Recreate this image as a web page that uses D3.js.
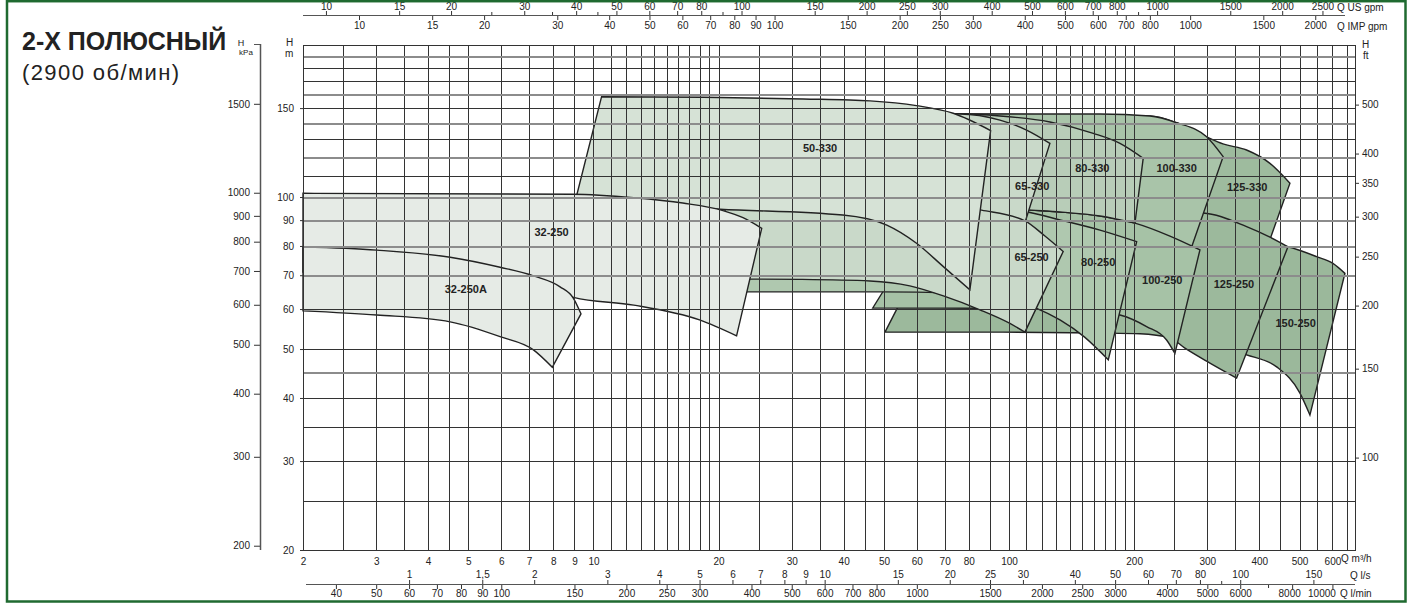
<!DOCTYPE html>
<html>
<head>
<meta charset="utf-8">
<script src="https://cdn.jsdelivr.net/npm/d3@7"></script>
<style>
  body { margin: 0; background: #fff; }
  text { font-family: "Liberation Sans", Arial, Helvetica, sans-serif; fill: #222; }
  .tick text { font-size: 10px; }
</style>
</head>
<body>
<svg id="chart"></svg>
<script>
// ---- axis values ----
var qLabels = [2, 3, 4, 5, 6, 7, 8, 9, 10, 20, 30, 40, 50, 60, 70, 80, 100, 200, 300, 400, 500, 600];
var qGrid = [2, 2.5, 3, 3.5, 4, 4.5, 5, 6, 7, 8, 9, 10, 11, 12, 13, 14, 15, 16, 17, 18, 19, 20, 25, 30, 35, 40, 45,
             50, 60, 70, 80, 90, 100, 110, 120, 130, 140, 150, 160, 170, 180, 190, 200, 250, 300, 350, 400, 450,
             500, 550, 600, 650];
var hLabels = [20, 30, 40, 50, 60, 70, 80, 90, 100, 150];
var hGrid = [25, 30, 35, 40, 45, 50, 60, 70, 80, 90, 100, 110, 120, 130, 140, 150, 160, 170, 180, 190];
var hGridLight = [45, 70, 80, 90, 100, 120, 140, 160, 190];
var kpaLabels = [200, 300, 400, 500, 600, 700, 800, 900, 1000, 1500];
var ftLabels = [100, 150, 200, 250, 300, 350, 400, 500];
var usLabels = [10, 15, 20, 30, 40, 50, 60, 70, 80, 100, 150, 200, 250, 300, 400, 500, 600, 700, 800, 1000, 1500, 2000, 2500];
var usMinor = [25, 35, 45, 90, 900];
var impLabels = [10, 15, 20, 30, 40, 50, 60, 70, 80, 90, 100, 150, 200, 250, 300, 400, 500, 600, 700, 800, 1000, 1500, 2000];
var lsLabels = [1, 1.5, 2, 3, 4, 5, 6, 7, 8, 9, 10, 15, 20, 25, 30, 40, 50, 60, 70, 80, 100, 150];
var lsMinor = [90];
var lminLabels = [40, 50, 60, 70, 80, 90, 100, 150, 200, 250, 300, 400, 500, 600, 700, 800, 1000, 1500, 2000,
                  2500, 3000, 4000, 5000, 6000, 8000, 10000];
var lminMinor = [7000];

// ---- pump curves, [Q m3/h, H m] ----
var top_32_250  = [[2, 101.7], [8.93, 101.3], [12.5, 99.7], [16.4, 97.3], [20.5, 94.0], [22.9, 91.0], [25.4, 86.7]];
var bot_32_250  = [[2, 71.0], [4.52, 68.5], [7.43, 65.5], [8.31, 64.6], [8.95, 63.3], [12.5, 61.1], [18.0, 57.1], [22.1, 53.1]];
var top_32_250A = [[2, 79.7], [3.01, 78.5], [4.52, 76.0], [5.96, 72.6], [7.17, 69.8], [8.31, 66.4], [8.95, 63.0], [9.33, 58.7]];
var bot_32_250A = [[2, 59.5], [3.01, 58.4], [4.52, 56.6], [5.96, 52.9], [7.17, 49.8], [7.96, 46.0]];
var top_50_330  = [[10.46, 158.0], [18.4, 157.6], [32.0, 156.4], [46.3, 155.0], [59.9, 151.7], [73.4, 146.5], [90.3, 135.4]];
var bot_50_330  = [[9.03, 97.8], [13.7, 96.4], [20.16, 94.6], [39.8, 92.1], [50.8, 88.0], [59.9, 81.0], [69.5, 72.8], [80.5, 65.5]];
var top_65_330  = [[18.0, 146.0], [54.6, 146.0], [76.2, 146.0], [95.1, 142.0], [110.2, 135.7], [125.4, 127.7]];
var bot_65_330  = [[25.2, 94.2], [54.6, 92.1], [90.0, 88.0], [107.4, 85.2]];
var top_65_250  = [[20.16, 100.9], [54.6, 98.7], [72.1, 96.4], [85.9, 94.2], [109.2, 89.7], [122.0, 83.7], [135.0, 78.0]];
var bot_65_250  = [[23.4, 68.8], [31.4, 68.7], [46.3, 68.2], [57.7, 66.7], [69.5, 63.7], [85.1, 59.8], [100.5, 56.2], [109.2, 54.0]];
var top_80_330  = [[18.0, 146.0], [76.2, 146.0], [95.1, 144.7], [125.4, 140.8], [159.5, 133.7], [184.9, 127.7], [210.3, 119.3]];
var bot_80_330  = [[31.4, 98.7], [76.2, 96.4], [113.3, 94.2], [132.6, 93.4], [165.5, 91.7], [200.9, 88.8]];
var top_80_250  = [[25.2, 99.6], [54.6, 97.8], [95.1, 95.5], [110.2, 93.5], [132.6, 90.1], [165.5, 86.0], [202.8, 81.6]];
var bot_80_250  = [[23.0, 64.9], [49.7, 64.9], [72.1, 64.6], [95.1, 63.1], [116.5, 60.2], [132.6, 57.1], [152, 52.8], [173.3, 47.6]];
var top_100_330 = [[18.0, 146.0], [76.2, 146.0], [165.5, 146.0], [218.3, 144.7], [253.1, 140.3], [298.9, 131.6], [327.5, 120.2]];
var bot_100_330 = [[31.4, 84.1], [72.1, 82.2], [165.5, 80.4], [272.5, 77.9]];
var top_100_250 = [[68.2, 98.7], [113.3, 94.2], [132.6, 93.4], [165.5, 91.7], [200.9, 88.8], [243.9, 83.7], [288.0, 78.6]];
var bot_100_250 = [[47.0, 60.3], [85.1, 60.2], [148.1, 59.8], [184.9, 58.4], [214.3, 55.4], [239.4, 52.1], [250.7, 49.0]];
var top_125_330 = [[72.1, 146.0], [218.3, 144.7], [253.1, 140.3], [298.9, 131.5], [327.1, 127.4], [372.9, 123.9], [424.5, 116.6], [474.2, 106.5]];
var bot_125_330 = [[72.1, 78.6], [218.3, 76.8], [406.0, 74.3]];
var top_125_250 = [[72.1, 96.4], [165.5, 94.2], [292.8, 93.0], [372.9, 87.4], [424.5, 83.3], [469.0, 79.7]];
var bot_125_250 = [[50.3, 54.0], [95.1, 54.0], [165.5, 53.8], [206.5, 53.6], [243.9, 52.6], [265.0, 50.2], [304.4, 46.9], [352.9, 43.8]];
var top_150_250 = [[72.1, 85.2], [165.5, 84.5], [288.0, 83.0], [379.8, 81.5], [469.0, 79.7], [549.7, 76.2], [601.7, 73.9], [643.0, 70.6]];
var bot_150_250 = [[76.2, 56.6], [165.5, 55.0], [288.0, 51.6], [372.9, 48.7], [440.5, 46.1], [501.2, 40.9], [529.7, 37.0]];

// drawing order: back to front
var models = [
    {name: '125-330', top: top_125_330, bottom: bot_125_330, at: [374.2, 104.8]},
    {name: '150-250', top: top_150_250, bottom: bot_150_250, at: [489.4, 56.4]},
    {name: '125-250', top: top_125_250, bottom: bot_125_250, at: [347.7, 67.2]},
    {name: '100-330', top: top_100_330, bottom: bot_100_330, at: [253.1, 114.3]},
    {name: '100-250', top: top_100_250, bottom: bot_100_250, at: [233.7, 68.5]},
    {name: '80-330',  top: top_80_330,  bottom: bot_80_330,  at: [158.6, 114.3]},
    {name: '80-250',  top: top_80_250,  bottom: bot_80_250,  at: [163.9, 74.4]},
    {name: '65-330',  top: top_65_330,  bottom: bot_65_330,  at: [113.7, 105.3]},
    {name: '65-250',  top: top_65_250,  bottom: bot_65_250,  at: [113.3, 76.0]},
    {name: '50-330',  top: top_50_330,  bottom: bot_50_330,  at: [35.1, 125.2]},
    {name: '32-250',  top: top_32_250,  bottom: bot_32_250,  at: [7.93, 85.4]},
    {name: '32-250A', top: top_32_250A, bottom: bot_32_250A, at: [4.93, 65.7]}
];

var fillColor = {
    '32-250': '#e6ebe6', '32-250A': '#e6ebe6', '50-330': '#d6e2d6',
    '65-330': '#c9d9c9', '65-250': '#c9d9c9', '80-330': '#b8cdb8', '80-250': '#afc8af',
    '100-330': '#a9c4a9', '100-250': '#a6c2a6', '125-330': '#9ebb9e', '125-250': '#9cb99c', '150-250': '#9bb89b'
};

// ---- layout ----
var width = 1408, height = 604;
var svg = d3.select('#chart').attr('width', width).attr('height', height);
svg.append('rect').attr('width', width).attr('height', height).attr('fill', '#fff');

var x = d3.scaleLog().domain([2, 680]).range([303, 1355]);
var y = d3.scaleLog().domain([20, 200]).range([550, 45]);

// secondary scales (unit conversions)
var xUS = d3.scaleLog().domain([2 / 0.22712, 680 / 0.22712]).range([303, 1355]);
var xIMP = d3.scaleLog().domain([2 / 0.27277, 680 / 0.27277]).range([303, 1355]);
var xLS = d3.scaleLog().domain([2 / 3.6, 680 / 3.6]).range([303, 1355]);
var xLMIN = d3.scaleLog().domain([2 / 0.06, 680 / 0.06]).range([303, 1355]);
var yKPA = d3.scaleLog().domain([20 * 9.80665, 200 * 9.80665]).range([550, 45]);
var yFT = d3.scaleLog().domain([20 / 0.3048, 200 / 0.3048]).range([550, 45]);

// ---- pump regions ----
var line = d3.line()
    .x(function(d) { return x(d[0]); })
    .y(function(d) { return y(d[1]); })
    .curve(d3.curveMonotoneX);

var regions = svg.append('g');
models.forEach(function(m) {
    var d = line(m.top) + 'L' + line(m.bottom.slice().reverse()).slice(1) + 'Z';
    regions.append('path')
        .attr('d', d)
        .attr('fill', fillColor[m.name])
        .attr('stroke', '#222')
        .attr('stroke-width', 1.4)
        .attr('stroke-linejoin', 'miter');
});

// ---- grid ----
var grid = svg.append('g').attr('shape-rendering', 'crispEdges');
grid.selectAll('line.v').data(qGrid).enter().append('line')
    .attr('x1', d => Math.round(x(d)) + 0.5).attr('x2', d => Math.round(x(d)) + 0.5)
    .attr('y1', 45).attr('y2', 550)
    .attr('stroke', '#333').attr('stroke-width', 1);
grid.selectAll('line.h').data(hGrid).enter().append('line')
    .attr('x1', 303).attr('x2', 1355)
    .attr('y1', d => Math.round(y(d)) + 0.5).attr('y2', d => Math.round(y(d)) + 0.5)
    .attr('stroke', d => hGridLight.indexOf(d) >= 0 ? '#8c8c8c' : '#333')
    .attr('stroke-width', d => hGridLight.indexOf(d) >= 0 ? 2 : 1);
grid.append('rect')
    .attr('x', 303.5).attr('y', 45.5).attr('width', 1052).attr('height', 505)
    .attr('fill', 'none').attr('stroke', '#333').attr('stroke-width', 1);

// ---- model labels ----
svg.append('g').selectAll('text').data(models).enter().append('text')
    .attr('x', d => x(d.at[0])).attr('y', d => y(d.at[1]) + 4)
    .attr('text-anchor', 'middle')
    .style('font-size', '11px').style('font-weight', 'bold')
    .text(d => d.name);

// ---- axes ----
function clean(g) {
    g.selectAll('.domain').remove();
    g.selectAll('.tick line').attr('stroke', '#333');
    g.selectAll('.tick text').attr('fill', '#222');
}
var fmt = function(d) { return String(d).replace('.', ','); };

// kPa axis
var kpaAxis = svg.append('g').attr('transform', 'translate(260,0)')
    .call(d3.axisLeft(yKPA).tickValues(kpaLabels).tickFormat(fmt).tickSize(6).tickPadding(4));
clean(kpaAxis);
svg.append('line').attr('x1', 260.5).attr('x2', 260.5).attr('y1', 44).attr('y2', 550)
    .attr('stroke', '#555').attr('stroke-width', 1.5);
svg.append('line').attr('x1', 254).attr('x2', 260).attr('y1', 44.5).attr('y2', 44.5).attr('stroke', '#555');

// m axis
var mAxis = svg.append('g').attr('transform', 'translate(303,0)')
    .call(d3.axisLeft(y).tickValues(hLabels).tickFormat(fmt).tickSize(3).tickPadding(6));
clean(mAxis);

// ft axis
var ftAxis = svg.append('g').attr('transform', 'translate(1355,0)')
    .call(d3.axisRight(yFT).tickValues(ftLabels).tickFormat(fmt).tickSize(4).tickPadding(3));
clean(ftAxis);

// Q m3/h labels under plot
var qAxis = svg.append('g').attr('transform', 'translate(0,550)')
    .call(d3.axisBottom(x).tickValues(qLabels).tickFormat(fmt).tickSize(0).tickPadding(8));
clean(qAxis);

// top: US gpm and IMP gpm on one line
svg.append('line').attr('x1', 303).attr('x2', 1345).attr('y1', 15.5).attr('y2', 15.5)
    .attr('stroke', '#555').attr('stroke-width', 1.2);
var usAxis = svg.append('g').attr('transform', 'translate(0,15)')
    .call(d3.axisTop(xUS).tickValues(usLabels).tickFormat(fmt).tickSize(4).tickPadding(1));
clean(usAxis);
var usMin = svg.append('g').attr('transform', 'translate(0,15)')
    .call(d3.axisTop(xUS).tickValues(usMinor).tickFormat('').tickSize(3));
clean(usMin);
var impAxis = svg.append('g').attr('transform', 'translate(0,16)')
    .call(d3.axisBottom(xIMP).tickValues(impLabels).tickFormat(fmt).tickSize(4).tickPadding(2));
clean(impAxis);

// bottom: l/s and l/min on one line
svg.append('line').attr('x1', 306).attr('x2', 1355).attr('y1', 584.5).attr('y2', 584.5)
    .attr('stroke', '#555').attr('stroke-width', 1.2);
var lsAxis = svg.append('g').attr('transform', 'translate(0,584)')
    .call(d3.axisTop(xLS).tickValues(lsLabels).tickFormat(fmt).tickSize(4).tickPadding(2));
clean(lsAxis);
var lsMin = svg.append('g').attr('transform', 'translate(0,584)')
    .call(d3.axisTop(xLS).tickValues(lsMinor).tickFormat('').tickSize(3));
clean(lsMin);
var lminAxis = svg.append('g').attr('transform', 'translate(0,585)')
    .call(d3.axisBottom(xLMIN).tickValues(lminLabels).tickFormat(fmt).tickSize(4).tickPadding(1));
clean(lminAxis);
// the last two l/min labels sit left of their ticks, clear of the unit caption
lminAxis.selectAll('.tick text').attr('dx', d => d === 10000 ? -11 : d === 8000 ? -3 : 0);
var lminMin = svg.append('g').attr('transform', 'translate(0,585)')
    .call(d3.axisBottom(xLMIN).tickValues(lminMinor).tickFormat('').tickSize(3));
clean(lminMin);

// unit captions
var caps = [
    {t: 'Q US gpm', x: 1337, y: 11}, {t: 'Q IMP gpm', x: 1337, y: 30},
    {t: 'Q m³/h', x: 1341, y: 562}, {t: 'Q l/s', x: 1350, y: 579}, {t: 'Q l/min', x: 1340, y: 597},
    {t: 'H', x: 1362, y: 48}, {t: 'ft', x: 1363, y: 59},
    {t: 'H', x: 286, y: 46}, {t: 'm', x: 285, y: 57}
];
svg.append('g').selectAll('text').data(caps).enter().append('text')
    .attr('x', d => d.x).attr('y', d => d.y).style('font-size', '10px').text(d => d.t);
svg.append('text').attr('x', 241).attr('y', 46).attr('text-anchor', 'middle').style('font-size', '9px').text('H');
svg.append('text').attr('x', 246).attr('y', 55).attr('text-anchor', 'middle').style('font-size', '8px').text('kPa');

// title
svg.append('text').attr('x', 22).attr('y', 50)
    .style('font-size', '25px').style('font-weight', 'bold').text('2-Х ПОЛЮСНЫЙ');
svg.append('text').attr('x', 22).attr('y', 80)
    .style('font-size', '22px').style('letter-spacing', '1.4px').text('(2900 об/мин)');

// frame
svg.append('rect').attr('x', 7).attr('y', 1.2).attr('width', 1398.5).attr('height', 600.3)
    .attr('fill', 'none').attr('stroke', '#1f6a30').attr('stroke-width', 2.5);
</script>
</body>
</html>
